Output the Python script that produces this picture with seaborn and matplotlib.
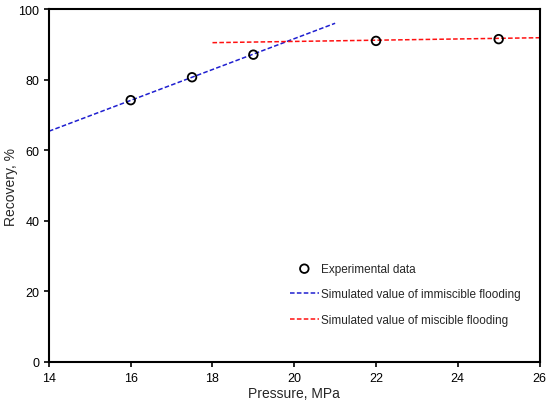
import matplotlib
matplotlib.use('Agg')
import matplotlib.pyplot as plt
import seaborn as sns
import pandas as pd

### DATOS ###
presion_exp = [16, 17.5, 19, 22, 25]
recobro_exp = [74.2, 80.7, 87.1, 91.0, 91.5]

presion_inmiscible = [14, 21]
recobro_inmiscible = [65.4, 96.0]

presion_miscible = [18, 26]
recobro_miscible = [90.5, 91.9]

### ESTILO ###
sns.set_style("ticks")
plt.rcParams['font.family'] = ['Liberation Sans', 'DejaVu Sans']

fig = plt.figure(figsize=(5.5, 4.06), dpi=100)
ax = fig.add_axes([0.089, 0.106, 0.892, 0.869])

exp = pd.DataFrame({'x': presion_exp, 'y': recobro_exp})
sns.scatterplot(data=exp, x='x', y='y', ax=ax, marker='o', s=38,
                facecolor='none', edgecolor='black', linewidth=1.3,
                label='Experimental data', zorder=3)
sns.lineplot(x=presion_inmiscible, y=recobro_inmiscible, ax=ax, color='#1f1fd0',
             linestyle=(0, (3, 1.5)), linewidth=1.1,
             label='Simulated value of immiscible flooding')
sns.lineplot(x=presion_miscible, y=recobro_miscible, ax=ax, color='#ff1010',
             linestyle=(0, (3, 1.5)), linewidth=1.1,
             label='Simulated value of miscible flooding')

ax.set_xlim(14, 26)
ax.set_ylim(0, 100)
ax.set_xticks(range(14, 27, 2))
ax.set_yticks(range(0, 101, 20))
ax.set_xlabel('Pressure, MPa', fontsize=10, labelpad=2)
ax.set_ylabel('Recovery, %', fontsize=10)
ax.yaxis.set_label_coords(-0.063, 0.5)
ax.tick_params(axis='both', direction='out', length=3.5, width=1.2, labelsize=9, colors='black')
for s in ax.spines.values():
    s.set_visible(True)
    s.set_linewidth(1.5)
    s.set_color('black')

ax.legend(loc='lower right', bbox_to_anchor=(0.984, 0.072), frameon=False, fontsize=8.5,
          handlelength=2.5, handletextpad=0.2, labelspacing=1.15)

plt.savefig('out.png', dpi=100)
